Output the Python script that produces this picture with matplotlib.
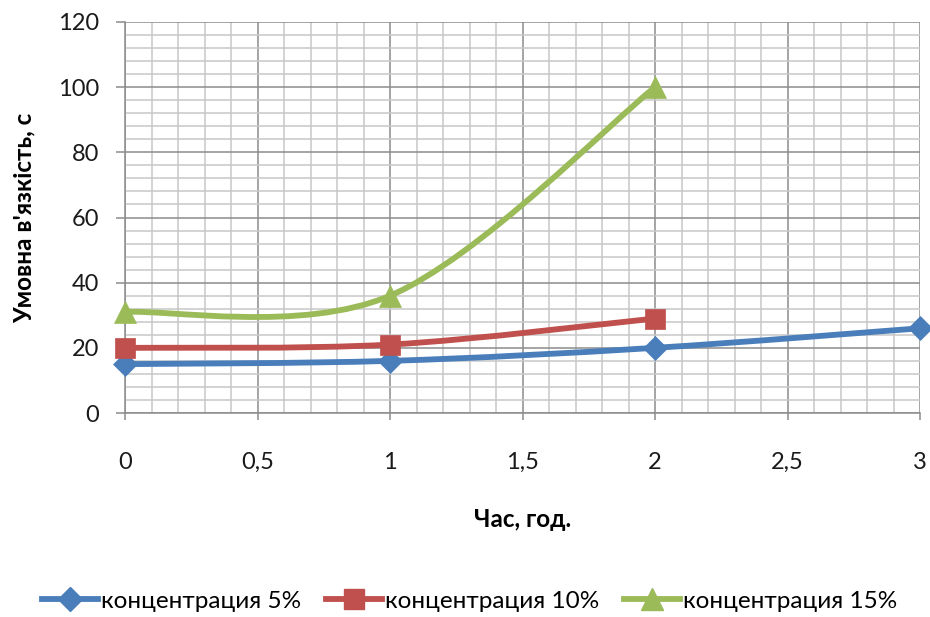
import matplotlib
matplotlib.use("Agg")
import matplotlib.pyplot as plt
import numpy as np
from matplotlib.path import Path
from matplotlib.patches import PathPatch
from matplotlib.lines import Line2D
from matplotlib.ticker import MultipleLocator, FuncFormatter

hours_5 = [0, 1, 2, 3]
visc_5 = [15, 16, 20, 26]
hours_10 = [0, 1, 2]
visc_10 = [20, 21, 29]
hours_15 = [0, 1, 2]
visc_15 = [31, 36, 100]

labels = ["концентрация 5%", "концентрация 10%", "концентрация 15%"]
colors = ["#4A7EBB", "#C0504D", "#9BBB59"]
markers = ["D", "s", "^"]
msizes = [12, 14.5, 15.5]

plt.rcParams["font.family"] = ["Lato", "DejaVu Sans"]

fig = plt.figure(figsize=(9.3, 6.17), dpi=100)
ax = fig.add_axes([125 / 930, 1 - 413 / 617, (920 - 125) / 930, (413 - 22) / 617])


def smooth_path(xs, ys):
    """Bezier path through the points, control points at 1/6 of neighbour spans."""
    pts = np.column_stack([xs, ys]).astype(float)
    n = len(pts)
    verts = [pts[0]]
    codes = [Path.MOVETO]
    for i in range(n - 1):
        p_prev = pts[i - 1] if i > 0 else pts[i]
        p_next = pts[i + 2] if i + 2 < n else pts[i + 1]
        c1 = pts[i] + (pts[i + 1] - p_prev) / 6.0
        c2 = pts[i + 1] - (p_next - pts[i]) / 6.0
        verts += [c1, c2, pts[i + 1]]
        codes += [Path.CURVE4] * 3
    return Path(verts, codes)


series = [(hours_5, visc_5), (hours_10, visc_10), (hours_15, visc_15)]
for (xs, ys), col, mk, ms in zip(series, colors, markers, msizes):
    patch = PathPatch(smooth_path(xs, ys), facecolor="none", edgecolor=col,
                      linewidth=4.2, capstyle="round", joinstyle="round", zorder=3)
    ax.add_patch(patch)
    ax.plot(xs, ys, linestyle="none", marker=mk, markersize=ms, color=col,
            markeredgecolor=col, markeredgewidth=0.5, zorder=4, clip_on=False)

ax.set_xlim(0, 3)
ax.set_ylim(0, 120)
ax.xaxis.set_major_locator(MultipleLocator(0.5))
ax.xaxis.set_minor_locator(MultipleLocator(0.1))
ax.yaxis.set_major_locator(MultipleLocator(20))
ax.yaxis.set_minor_locator(MultipleLocator(4))

ax.grid(which="major", color="#8C8C8C", linewidth=1.1)
ax.grid(which="minor", color="#C8C8C8", linewidth=1.1)
ax.set_axisbelow(True)

fmt = FuncFormatter(lambda v, p: ("%g" % v).replace(".", ","))
ax.xaxis.set_major_formatter(fmt)
ax.yaxis.set_major_formatter(fmt)

for side in ["top", "right"]:
    ax.spines[side].set_visible(False)
for side in ["left", "bottom"]:
    ax.spines[side].set_color("#8C8C8C")
    ax.spines[side].set_linewidth(1.1)

ax.tick_params(which="minor", length=0)
ax.tick_params(axis="y", which="major", length=6.5, width=1.1, color="#8C8C8C",
               pad=12, labelsize=17, labelcolor="#1a1a1a")
ax.tick_params(axis="x", which="major", length=5, width=1.1, color="#8C8C8C",
               pad=23, labelsize=17, labelcolor="#1a1a1a")

ax.set_xlabel("Час, год.", fontsize=17.5, fontweight="bold", labelpad=25)
ax.set_ylabel("Умовна в'язкість, с", fontsize=17.5, fontweight="bold", labelpad=16)

handles = [Line2D([], [], color=c, marker=m, markersize=s, linewidth=4.2)
           for c, m, s in zip(colors, markers, msizes)]
fig.legend(handles, labels, loc="center", bbox_to_anchor=(0.505, 1 - 601 / 617),
           ncol=3, frameon=False, fontsize=17.5, handlelength=2.3,
           handletextpad=0.15, columnspacing=1.0)

fig.savefig("out.png", dpi=100)
